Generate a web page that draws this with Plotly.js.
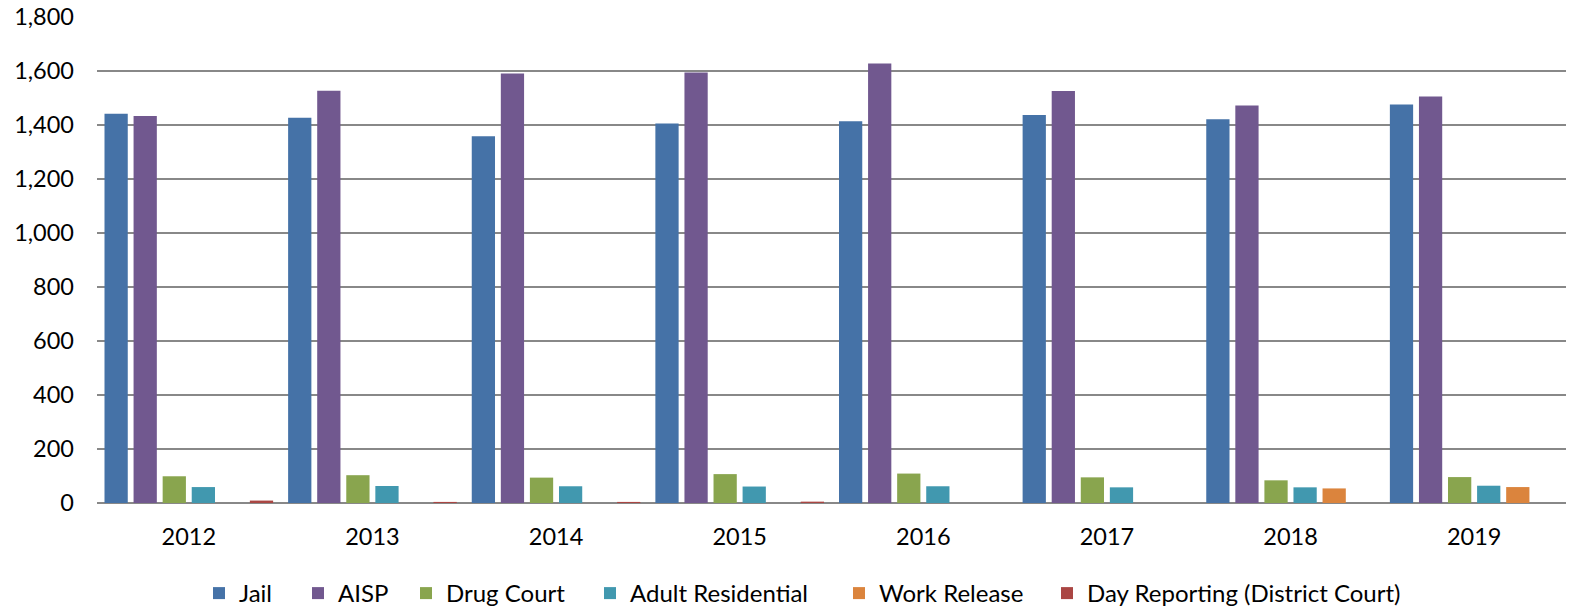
<!DOCTYPE html>
<html>
<head>
<meta charset="utf-8">
<script src="https://cdn.plot.ly/plotly-3.0.1.min.js"></script>
<style>
  html, body { margin: 0; padding: 0; background: #fff; }
  #chart { width: 1581px; height: 609px; }
</style>
</head>
<body>
<div id="chart"></div>
<script>
// program participants by year
var years = ['2012', '2013', '2014', '2015', '2016', '2017', '2018', '2019'];

var jail        = [1442, 1427, 1358, 1406, 1414, 1437, 1421, 1476];
var aisp        = [1433, 1527, 1591, 1594, 1628, 1526, 1472, 1506];
var drugCourt   = [99, 103, 94, 107, 109, 95, 84, 96];
var adultRes    = [59, 63, 62, 61, 62, 58, 58, 64];
var workRelease = [0, 0, 0, 0, 0, 0, 54, 59];
var dayReport   = [9, 4, 4, 5, 0, 0, 0, 0];

var names  = ['Jail', 'AISP', 'Drug Court', 'Adult Residential', 'Work Release', 'Day Reporting (District Court)'];
var colors = ['#4572A7', '#71588F', '#89A54E', '#4198AF', '#DB843D', '#AA4643'];
var series = [jail, aisp, drugCourt, adultRes, workRelease, dayReport];

// where each legend entry's text starts (px from left), so spacing looks like the original
var legendTextX = [237, 336, 444, 628, 877, 1085];

var fnt = { family: 'Lato, "Open Sans", sans-serif', size: 23.5, color: '#000' };
var legFnt = { family: 'Lato, "Open Sans", sans-serif', size: 24, color: '#000' };

var data = series.map(function (vals, i) {
  return {
    x: years,
    y: vals,
    name: names[i],
    type: 'bar',
    marker: { color: colors[i] },
    legend: i === 0 ? 'legend' : 'legend' + (i + 1),
    hoverinfo: 'x+y+name'
  };
});

var layout = {
  width: 1581,
  height: 609,
  margin: { l: 97, r: 15, t: 17, b: 106, autoexpand: false },
  barmode: 'group',
  bargap: 0.05,
  bargroupgap: 0.2,
  paper_bgcolor: '#fff',
  plot_bgcolor: '#fff',
  font: fnt,
  showlegend: true,
  xaxis: {
    type: 'category',
    showgrid: false,
    showline: false,
    ticks: '',
    tickfont: fnt,
    ticklabelstandoff: 17
  },
  yaxis: {
    range: [0, 1800],
    dtick: 200,
    tickformat: ',d',
    showgrid: true,
    gridcolor: '#888888',
    gridwidth: 1.5,
    zeroline: true,
    zerolinecolor: '#888888',
    zerolinewidth: 1.5,
    showline: false,
    ticks: '',
    tickfont: fnt,
    ticklabelstandoff: 22
  }
};

legendTextX.forEach(function (tx, i) {
  var key = i === 0 ? 'legend' : 'legend' + (i + 1);
  layout[key] = {
    orientation: 'h',
    xref: 'container',
    yref: 'container',
    x: (tx - 38) / 1581,
    xanchor: 'left',
    y: (609 - 593.5) / 609,
    yanchor: 'middle',
    font: legFnt,
    bgcolor: 'rgba(0,0,0,0)',
    borderwidth: 0
  };
});

Plotly.newPlot('chart', data, layout, { displayModeBar: false, staticPlot: true });
</script>
</body>
</html>
